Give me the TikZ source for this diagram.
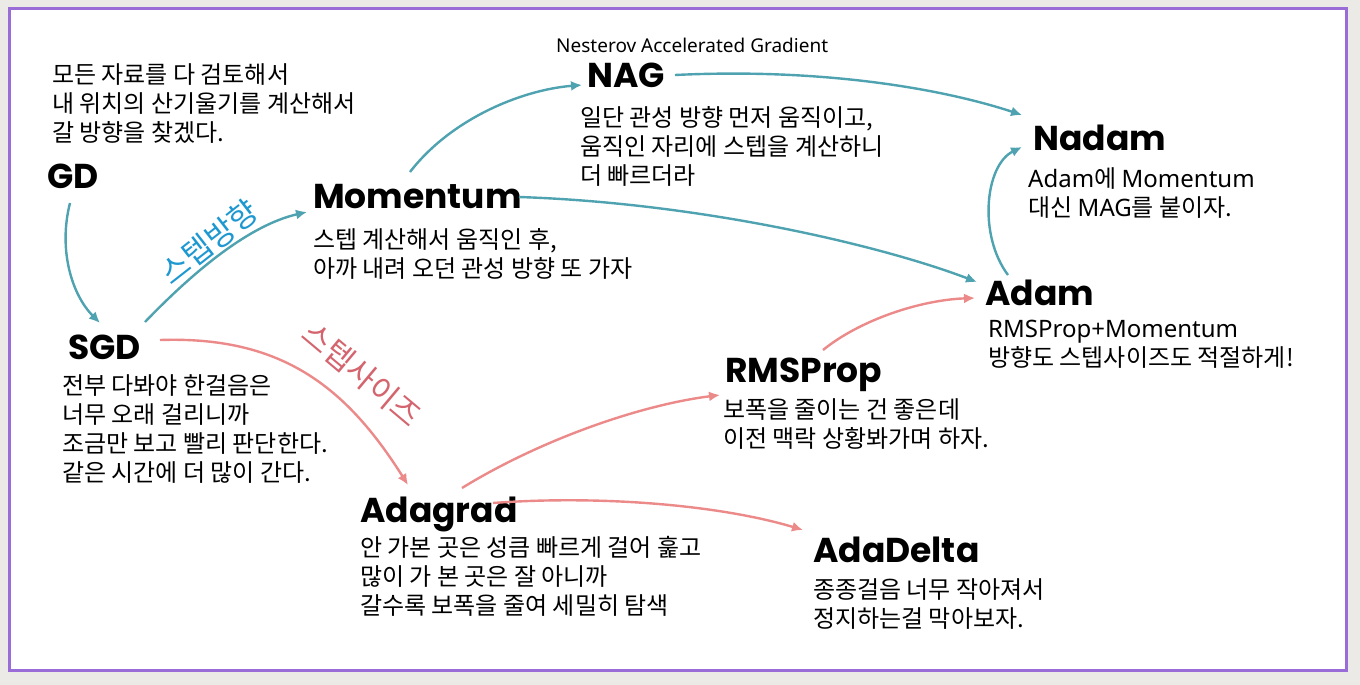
\documentclass[tikz,border=0pt]{standalone}
\usepackage{fontspec}
\setmainfont{Noto Sans CJK KR}
\newfontfamily\titlefont{Poppins}
\newfontfamily\latfont{Noto Sans}
\usetikzlibrary{arrows.meta}
\definecolor{bgout}{HTML}{ECEAE6}
\definecolor{frame}{HTML}{9A6CD8}
\definecolor{teal}{HTML}{4FA2B0}
\definecolor{pinkline}{HTML}{EC8A8A}
\definecolor{bluelab}{HTML}{1E98D0}
\definecolor{pinklab}{HTML}{D4646E}
\newcommand{\lt}[1]{{\latfont #1}}
\tikzset{
  title/.style={anchor=base west, inner sep=0pt, font=\titlefont\bfseries\fontsize{34.5}{40}\selectfont},
  body/.style={anchor=north west, inner sep=0pt, align=left, font=\fontsize{24}{29}\selectfont},
  tarrow/.style={draw=teal, line width=2.4pt, -{Latex[length=11pt,width=10pt]}},
  parrow/.style={draw=pinkline, line width=2.4pt, -{Latex[length=11pt,width=10pt]}},
}
\begin{document}
\begin{tikzpicture}[x=1pt,y=-1pt]
\useasboundingbox (0,0) rectangle (1360,685);
\fill[bgout] (0,0) rectangle (1360,685);
\draw[frame, line width=3pt, fill=white] (9,9) rectangle (1346,670);

% titles
\node[title] (gd) at (47,188) {GD};
\node[title] (sgd) at (68,359) {SGD};
\node[title] (mom) at (313,208) {Momentum};
\node[title] (nag) at (587,88) {NAG};
\node[title] (nadam) at (1033,150) {Nadam};
\node[title] (adam) at (985,305) {Adam};
\node[title] (rms) at (725,382) {RMSProp};
\node[title] (adag) at (360,522) {Adagrad};
\node[title] (adad) at (813,562) {AdaDelta};

% subtitle
\node[anchor=base west, inner sep=0pt, font=\latfont\fontsize{19}{22}\selectfont] (nagfull) at (556,53) {Nesterov Accelerated Gradient};

% bodies
\node[body] (gdtxt) at (52,63) {모든 자료를 다 검토해서\\내 위치의 산기울기를 계산해서\\갈 방향을 찾겠다.};
\node[body] (sgdtxt) at (62,374) {전부 다봐야 한걸음은\\너무 오래 걸리니까\\조금만 보고 빨리 판단한다.\\같은 시간에 더 많이 간다.};
\node[body] (momtxt) at (313,228) {스텝 계산해서 움직인 후,\\아까 내려 오던 관성 방향 또 가자};
\node[body] (nagtxt) at (580,106) {일단 관성 방향 먼저 움직이고,\\움직인 자리에 스텝을 계산하니\\더 빠르더라};
\node[body] (nadamtxt) at (1028,167) {\lt{Adam}에 \lt{Momentum}\\대신 \lt{MAG}를 붙이자.};
\node[body] (adamtxt) at (988,320) {\lt{RMSProp+Momentum}\\방향도 스텝사이즈도 적절하게!};
\node[body] (rmstxt) at (723,398) {보폭을 줄이는 건 좋은데\\이전 맥락 상황봐가며 하자.};
\node[body] (adagtxt) at (360,536) {안 가본 곳은 성큼 빠르게 걸어 훑고\\많이 가 본 곳은 잘 아니까\\갈수록 보폭을 줄여 세밀히 탐색};
\node[body] (adadtxt) at (813,578) {종종걸음 너무 작아져서\\정지하는걸 막아보자.};

% rotated labels
\node[inner sep=0pt, rotate=38, text=bluelab, font=\fontsize{31}{33}\selectfont] (lab1) at (209,242) {스텝방향};
\node[inner sep=0pt, rotate=-40, text=pinklab, font=\fontsize{31}{33}\selectfont] (lab2) at (362,374) {스텝사이즈};

% teal arrows
\draw[tarrow] ([shift={(23,15)}]gd.base west) .. controls (58,250) and (72,295) .. ([shift={(32,-36)}]sgd.base west);
\draw[tarrow] ([shift={(77,-37)}]sgd.base west) .. controls (195,270) and (250,225) .. ([shift={(-6,4)}]mom.base west);
\draw[tarrow] ([shift={(97,-36)}]mom.base west) .. controls (450,120) and (520,90) .. ([shift={(-5,-3)}]nag.base west);
\draw[tarrow] ([shift={(206,-11)}]mom.base west) .. controls (700,203) and (880,245) .. ([shift={(-8,-23)}]adam.base west);
\draw[tarrow] ([shift={(88,-13)}]nag.base west) .. controls (820,68) and (940,88) .. ([shift={(-11,-35)}]nadam.base west);
\draw[tarrow] ([shift={(23,-30)}]adam.base west) .. controls (978,235) and (985,165) .. ([shift={(-11,-3)}]nadam.base west);

% pink arrows
\draw[parrow] ([shift={(92,-19)}]sgd.base west) .. controls (280,336) and (345,385) .. ([shift={(48,-37)}]adag.base west);
\draw[parrow] ([shift={(102,-34)}]adag.base west) .. controls (540,440) and (640,405) .. ([shift={(-5,13)}]rms.base west);
\draw[parrow] ([shift={(133,-19)}]adag.base west) .. controls (600,495) and (720,505) .. ([shift={(-10,-32)}]adad.base west);
\draw[parrow] ([shift={(98,-32)}]rms.base west) .. controls (860,320) and (920,300) .. ([shift={(-10,-7)}]adam.base west);
\end{tikzpicture}
\end{document}
